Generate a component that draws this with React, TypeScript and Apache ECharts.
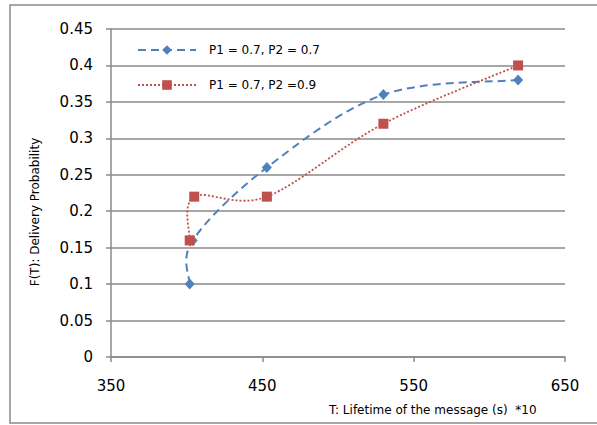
import React, { useEffect, useRef } from "react";
import * as echarts from "echarts";

// Message lifetime (x, in units of 10 s) against delivery probability
const seriesNames = ["P1 = 0.7, P2 = 0.7", "P1 = 0.7, P2 =0.9"];
const lifetimeA = [402, 404, 453, 530, 619];
const probabilityA = [0.1, 0.16, 0.26, 0.36, 0.38];
const lifetimeB = [402, 405, 453, 530, 619];
const probabilityB = [0.16, 0.22, 0.22, 0.32, 0.4];

const xMin = 350;
const xMax = 650;
const xStep = 100;
const yMin = 0;
const yMax = 0.45;
const yStep = 0.05;

const xTitle = "T: Lifetime of the message (s)  *10";
const yTitle = "F(T): Delivery Probability";

const FONT = "DejaVu Sans";
const GRID_GREY = "#8a8a8a";
const BLUE = "#4F81BD";
const RED = "#C0504D";
const BLUE_DASH = [8, 5];
const RED_DOT = [2, 2];

const pairs = (xs: number[], ys: number[]) => xs.map((x, i) => [x, ys[i]]);

// Smoothed curve through pixel points: cubic Bezier segments with
// Catmull-Rom tangents (endpoints reuse themselves as neighbours).
function smoothPath(pts: number[][]): string {
  const n = pts.length;
  let d = `M${pts[0][0]},${pts[0][1]}`;
  for (let i = 0; i < n - 1; i++) {
    const p0 = pts[Math.max(i - 1, 0)];
    const p1 = pts[i];
    const p2 = pts[i + 1];
    const p3 = pts[Math.min(i + 2, n - 1)];
    const c1x = p1[0] + (p2[0] - p0[0]) / 6;
    const c1y = p1[1] + (p2[1] - p0[1]) / 6;
    const c2x = p2[0] - (p3[0] - p1[0]) / 6;
    const c2y = p2[1] - (p3[1] - p1[1]) / 6;
    d += ` C${c1x},${c1y} ${c2x},${c2y} ${p2[0]},${p2[1]}`;
  }
  return d;
}

function curveSeries(xs: number[], ys: number[], color: string, width: number, dash: number[], z: number) {
  return {
    type: "custom",
    coordinateSystem: "cartesian2d",
    data: pairs(xs, ys),
    silent: true,
    z,
    renderItem: (params: any, api: any) => {
      if (params.dataIndex !== 0) return null;
      const pts = xs.map((x, i) => api.coord([x, ys[i]]));
      return {
        type: "path",
        shape: { pathData: smoothPath(pts) },
        style: { fill: "none", stroke: color, lineWidth: width, lineDash: dash },
      };
    },
  };
}

export default function App() {
  const ref = useRef<HTMLDivElement>(null);

  useEffect(() => {
    if (!ref.current) return;
    const chart = echarts.init(ref.current, null, { renderer: "svg" });
    chart.setOption({
      animation: false,
      backgroundColor: "#ffffff",
      grid: { left: 111, right: 32, top: 29, bottom: 68, outerBoundsMode: "none" },
      xAxis: {
        type: "value",
        min: xMin,
        max: xMax,
        interval: xStep,
        axisLine: { show: true, lineStyle: { color: GRID_GREY, width: 1.5 } },
        axisTick: { show: true, length: 5, lineStyle: { color: GRID_GREY, width: 1.5 } },
        splitLine: { show: false },
        axisLabel: { fontFamily: FONT, fontSize: 15, color: "#000", margin: 21 },
      },
      yAxis: {
        type: "value",
        min: yMin,
        max: yMax,
        interval: yStep,
        axisLine: { show: true, lineStyle: { color: GRID_GREY, width: 1.5 } },
        axisTick: { show: true, length: 5, lineStyle: { color: GRID_GREY, width: 1.5 } },
        splitLine: { show: true, lineStyle: { color: GRID_GREY, width: 1.5 } },
        axisLabel: {
          fontFamily: FONT,
          fontSize: 15,
          color: "#000",
          margin: 18,
          formatter: (v: number) => String(+v.toFixed(2)),
        },
      },
      legend: {
        orient: "vertical",
        left: 137,
        top: 44,
        padding: 0,
        itemWidth: 58,
        itemHeight: 12,
        itemGap: 23,
        textStyle: { fontFamily: FONT, fontSize: 12, color: "#000", padding: [0, 0, 0, 8] },
        data: seriesNames,
      },
      series: [
        // legend entries
        {
          name: seriesNames[0],
          type: "line",
          data: [],
          symbol: "diamond",
          symbolSize: [10, 11],
          itemStyle: { color: BLUE },
          lineStyle: { color: BLUE, width: 2, type: BLUE_DASH },
        },
        {
          name: seriesNames[1],
          type: "line",
          data: [],
          symbol: "rect",
          symbolSize: 10,
          itemStyle: { color: RED },
          lineStyle: { color: RED, width: 1.8, type: RED_DOT },
        },
        // smoothed curves
        curveSeries(lifetimeA, probabilityA, BLUE, 2, BLUE_DASH, 2),
        curveSeries(lifetimeB, probabilityB, RED, 1.8, RED_DOT, 3),
        // markers
        {
          type: "scatter",
          data: pairs(lifetimeA, probabilityA),
          symbol: "diamond",
          symbolSize: [10, 11],
          itemStyle: { color: BLUE, opacity: 1 },
          z: 4,
          silent: true,
        },
        {
          type: "scatter",
          data: pairs(lifetimeB, probabilityB),
          symbol: "rect",
          symbolSize: 10,
          itemStyle: { color: RED, opacity: 1 },
          z: 5,
          silent: true,
        },
      ],
      graphic: [
        {
          type: "rect",
          shape: { x: 10, y: 5, width: 590, height: 418 },
          style: { fill: "none", stroke: GRID_GREY, lineWidth: 1.5 },
          silent: true,
          z: -1,
        },
        {
          type: "text",
          x: 329,
          y: 410,
          style: {
            text: xTitle,
            fontFamily: FONT,
            fontSize: 12,
            fill: "#000",
            align: "left",
            verticalAlign: "middle",
          },
        },
        {
          type: "text",
          x: 35,
          y: 212,
          rotation: Math.PI / 2,
          style: {
            text: yTitle,
            fontFamily: FONT,
            fontSize: 12,
            fill: "#000",
            align: "center",
            verticalAlign: "middle",
          },
        },
      ],
    });
    return () => chart.dispose();
  }, []);

  return (
    <div
      ref={ref}
      style={{ position: "absolute", left: 0, top: 0, width: 597, height: 425 }}
    />
  );
}
